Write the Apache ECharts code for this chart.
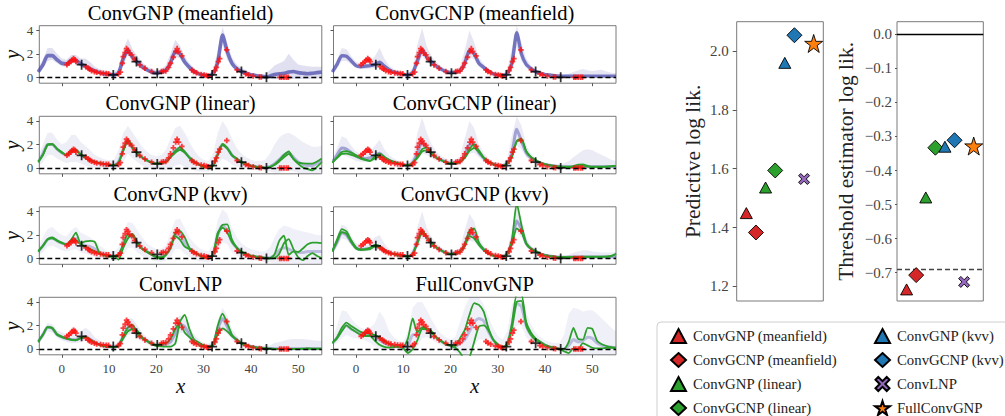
<!DOCTYPE html>
<html><head><meta charset="utf-8">
<script src="https://cdn.jsdelivr.net/npm/echarts@6/dist/echarts.min.js"></script>
<style>html,body{margin:0;padding:0;background:#fff}#c{width:1005px;height:416px}</style>
</head><body><div id="c"></div>
<script>
// ---------- shared x grid for the sample panels ----------
const xGrid = [-5,-4,-3,-2,-1,0,1,2,3,4,5,6,7,8,9,10,11,12,13,14,15,16,17,18,19,20,21,22,23,24,25,26,27,28,29,30,31,32,33,34,35,36,37,38,39,40,41,42,43,44,45,46,47,48,49,50,51,52,53,54,55];
const xTicks = [0,10,20,30,40,50];
const yTicks = [0,2,4];

const panelTitles = ['ConvGNP (meanfield)','ConvGCNP (meanfield)','ConvGNP (linear)','ConvGCNP (linear)','ConvGNP (kvv)','ConvGCNP (kvv)','ConvLNP','FullConvGNP'];

// context points (red) and target points (black)
const ctxX = [1.1,1.5,1.9,2.2,2.5,2.8,3.0,5.1,5.6,5.9,6.3,6.9,7.4,8.2,8.8,9.4,9.9,12.0,12.4,12.8,13.0,13.4,13.7,14.0,14.3,14.8,15.4,16.5,17.6,19.0,21.1,21.5,22.0,22.6,23.0,23.6,24.1,24.4,24.7,25.4,27.5,27.9,28.5,29.5,30.1,30.6,31.0,32.4,32.7,33.1,33.4,34.9,37.1,38.9,39.5,40.5,41.8,42.2,46.1,46.5,47.0,47.5,47.9];
const ctxY = [1.08,1.2,1.34,1.48,1.6,1.5,1.34,0.91,0.77,0.68,0.57,0.48,0.43,0.37,0.34,0.32,0.31,0.29,0.45,1.2,1.77,2.1,2.45,2.3,2.06,1.91,1.54,1.06,0.77,0.49,0.49,0.52,0.54,0.85,1.2,1.71,2.2,2.45,2.2,1.83,0.63,0.5,0.4,0.25,0.2,0.15,0.11,0.57,0.85,1.34,1.6,2.34,0.63,0.29,0.2,0.11,0.03,0.02,0,0,0,0,0];
const tgtX = [4.2,10.9,15.8,20.2,31.8,38.0,43.3];
const tgtY = [1.08,0.2,1.34,0.34,0.2,0.49,0.0];

// ---------- blue sample cloud: core, lower and upper envelope per panel ----------
const core1 = [0.45,1.05,1.85,1.85,1.5,1.2,1.15,1.45,1.45,1.15, 0.95,0.75,0.55,0.4,0.3,0.25,0.2,0.35,1.6,2.3, 1.7,1.3,0.9,0.65,0.45,0.35,0.45,0.6,1.2,2.2, 2.0,1.3,0.85,0.5,0.3,0.18,0.12,0.3,1.3,3.6, 2.2,1.2,0.75,0.5,0.35,0.22,0.15,0.08,0.05,0.1, 0.25,0.3,0.35,0.45,0.5,0.4,0.35,0.3,0.35,0.4, 0.45];
const hi1 = [0.8,1.5,2.5,2.5,2.0,1.6,1.5,1.9,1.9,1.6, 1.6,1.3,0.9,0.7,0.55,0.45,0.4,0.7,2.4,3.3, 2.4,1.8,1.3,0.95,0.7,0.6,0.7,1.0,2.0,3.2, 2.7,1.8,1.2,0.8,0.5,0.35,0.3,0.6,2.3,4.3, 2.9,1.7,1.1,0.8,0.6,0.4,0.3,0.25,0.3,0.6, 1.0,1.2,1.4,2.0,1.5,1.1,1.0,0.95,0.9,0.9, 0.9];
const lo1 = [0.3,0.8,1.4,1.5,1.2,0.95,0.9,1.2,1.2,0.9, 0.7,0.5,0.35,0.25,0.15,0.1,0.05,0.15,1.0,1.9, 1.3,1.0,0.65,0.45,0.3,0.2,0.3,0.4,0.9,1.8, 1.6,1.0,0.6,0.35,0.15,0.05,0.0,0.15,0.9,2.8, 1.5,0.9,0.5,0.35,0.2,0.1,0.05,0.0,-0.05,-0.1, -0.15,-0.15,-0.15,-0.15,-0.15,-0.15,-0.15,-0.15,-0.1,-0.1, -0.1];

const core2 = [0.45,1.1,1.85,1.8,1.4,1.0,0.9,0.95,1.0,1.1, 1.3,0.95,0.65,0.45,0.35,0.25,0.2,0.4,1.4,2.4, 1.7,1.3,0.95,0.7,0.5,0.4,0.45,0.55,1.2,2.3, 2.0,1.2,0.85,0.55,0.3,0.2,0.18,0.3,1.2,3.8, 2.0,1.1,0.75,0.5,0.35,0.25,0.2,0.15,0.12,0.1, 0.1,0.1,0.1,0.1,0.1,0.1,0.1,0.1,0.1,0.1, 0.1];
const hi2 = [0.7,1.5,2.5,2.4,1.8,1.3,1.2,1.3,1.4,1.8, 2.5,1.6,1.0,0.7,0.5,0.4,0.35,0.8,2.8,4.2, 2.6,1.8,1.3,0.95,0.7,0.6,0.65,0.9,2.3,4.0, 3.0,1.7,1.15,0.75,0.45,0.35,0.3,0.6,2.5,4.4, 3.0,1.6,1.0,0.7,0.5,0.35,0.3,0.25,0.22,0.22, 0.3,0.45,0.6,0.7,0.6,0.55,0.6,0.65,0.5,0.4, 0.35];
const lo2 = [0.25,0.8,1.4,1.4,1.1,0.8,0.7,0.7,0.75,0.8, 0.9,0.7,0.45,0.3,0.2,0.12,0.08,0.2,0.9,1.8, 1.3,1.0,0.7,0.5,0.35,0.25,0.3,0.35,0.8,1.8, 1.5,0.9,0.6,0.35,0.15,0.08,0.05,0.12,0.8,2.6, 1.4,0.8,0.5,0.3,0.2,0.1,0.05,0.02,0,0, 0,0,0,0,0,0,0,0,0,0, 0];

const core3 = [0.5,1.2,2.0,2.0,1.6,1.3,1.1,1.5,1.5,1.15, 0.9,0.7,0.5,0.4,0.3,0.25,0.22,0.5,1.6,2.3, 1.7,1.25,0.9,0.65,0.45,0.38,0.42,0.55,1.0,1.5, 1.65,1.35,0.9,0.5,0.3,0.12,0.08,0.3,1.2,2.0, 1.7,1.1,0.75,0.5,0.32,0.2,0.12,0.06,0.02,0.1, 0.35,0.7,1.1,1.3,0.9,0.5,0.3,0.2,0.2,0.4, 0.65];
const hi3 = [1.0,2.0,3.0,3.0,2.4,2.0,2.2,2.8,2.8,2.2, 1.9,1.5,1.1,0.9,0.75,0.65,0.7,1.5,3.0,3.6, 3.0,2.4,1.8,1.4,1.1,1.0,1.1,1.5,2.5,3.4, 3.6,3.0,2.2,1.5,1.0,0.7,0.6,1.2,3.0,4.0, 3.4,2.5,1.7,1.2,0.9,0.7,0.6,0.6,0.7,1.2, 2.0,2.6,2.9,3.0,2.8,2.5,2.2,2.0,1.8,1.8, 1.9];
const lo3 = [0.1,0.5,1.1,1.1,0.8,0.6,0.4,0.5,0.5,0.4, 0.2,0.1,0.0,-0.05,-0.1,-0.1,-0.1,-0.1,0.5,1.2, 0.8,0.5,0.2,0.0,-0.1,-0.15,-0.2,-0.2,-0.1,0.2, 0.3,0.1,-0.1,-0.2,-0.3,-0.3,-0.3,-0.2,0.3,0.8, 0.6,0.3,0.1,0.0,-0.1,-0.15,-0.2,-0.2,-0.2,-0.3, -0.4,-0.4,-0.3,-0.2,-0.3,-0.4,-0.5,-0.5,-0.5,-0.5, -0.4];

const core4 = [0.5,1.1,1.7,1.6,1.3,1.0,0.85,0.8,0.85,1.1, 1.25,0.9,0.65,0.48,0.35,0.26,0.22,0.45,1.3,2.2, 1.7,1.25,0.9,0.68,0.5,0.4,0.42,0.55,1.1,2.0, 2.0,1.3,0.85,0.52,0.32,0.2,0.18,0.4,1.3,3.3, 2.3,1.3,0.85,0.6,0.42,0.3,0.22,0.16,0.12,0.1, 0.1,0.1,0.1,0.1,0.1,0.1,0.1,0.1,0.1,0.1, 0.1];
const hi4 = [0.8,1.7,2.7,2.5,1.9,1.4,1.2,1.2,1.4,1.9, 2.4,1.6,1.1,0.8,0.6,0.45,0.4,0.9,3.0,4.3, 3.0,2.0,1.4,1.0,0.8,0.65,0.7,1.0,2.5,4.0, 3.4,2.0,1.3,0.85,0.55,0.4,0.35,0.8,2.8,4.4, 3.6,2.0,1.2,0.85,0.6,0.45,0.35,0.3,0.3,0.4, 0.6,0.9,1.2,1.5,1.6,1.5,1.3,1.1,0.9,0.7, 0.6];
const lo4 = [0.3,0.7,1.1,1.0,0.8,0.6,0.5,0.5,0.5,0.6, 0.7,0.55,0.4,0.28,0.18,0.12,0.08,0.2,0.7,1.2, 1.1,0.85,0.6,0.45,0.32,0.24,0.26,0.35,0.7,1.2, 1.3,0.9,0.55,0.32,0.15,0.08,0.06,0.15,0.7,1.9, 1.6,0.9,0.55,0.35,0.22,0.12,0.08,0.05,0.03,0.02, 0,0,0,0,0,0,0,0,0,0, 0];

const core5 = [0.55,1.05,1.6,1.75,1.5,1.3,1.2,1.5,1.7,1.25, 1.1,1.0,0.8,0.5,0.3,0.2,0.2,0.25,1.1,1.9, 1.9,1.3,0.85,0.58,0.35,0.15,0.1,0.3,0.9,2.0, 2.0,1.3,0.85,0.55,0.3,0.12,0.05,0.3,2.0,2.8, 2.4,1.4,0.9,0.55,0.35,0.22,0.15,0.1,0.05,0.05, 0.3,0.7,0.9,0.8,0.6,0.5,0.5,0.6,0.6,0.6, 0.6];
const hi5 = [1.0,1.8,2.5,2.7,2.3,2.0,1.9,2.4,2.7,2.2, 2.0,1.8,1.5,1.1,0.8,0.6,0.6,0.9,2.4,3.1, 3.0,2.4,1.8,1.3,1.0,0.8,0.8,1.1,2.2,3.3, 3.4,2.6,1.8,1.3,0.9,0.7,0.6,1.2,3.3,4.2, 3.8,2.6,1.8,1.3,1.0,0.8,0.7,0.6,0.6,0.9, 1.8,2.5,2.8,2.7,2.5,2.4,2.3,2.2,2.1,2.0, 2.0];
const lo5 = [0.2,0.5,1.0,1.1,0.9,0.7,0.6,0.7,0.8,0.5, 0.4,0.3,0.1,0.0,-0.1,-0.15,-0.15,-0.2,0.2,0.9, 0.9,0.5,0.2,0.0,-0.15,-0.25,-0.3,-0.2,0.1,0.8, 0.8,0.4,0.1,-0.1,-0.25,-0.3,-0.35,-0.2,0.7,1.4, 1.2,0.5,0.2,0.0,-0.1,-0.2,-0.2,-0.25,-0.3,-0.35, -0.4,-0.4,-0.4,-0.4,-0.4,-0.4,-0.45,-0.45,-0.45,-0.45, -0.45];

const core6 = [0.6,1.4,2.2,2.0,1.4,0.9,0.78,0.8,0.88,1.1, 1.0,0.72,0.5,0.37,0.27,0.2,0.16,0.4,1.4,2.3, 1.75,1.32,0.93,0.69,0.49,0.37,0.44,0.58,1.15,2.1, 2.0,1.25,0.76,0.44,0.25,0.18,0.15,0.4,1.4,3.2, 2.5,1.28,0.84,0.6,0.39,0.28,0.2,0.15,0.12,0.1, 0.12,0.12,0.12,0.12,0.12,0.12,0.12,0.12,0.12,0.12, 0.12];
const hi6 = [0.9,1.9,2.9,2.7,1.9,1.3,1.1,1.1,1.3,1.8, 2.0,1.3,0.8,0.6,0.45,0.35,0.3,0.8,2.7,4.0, 2.6,1.8,1.3,0.95,0.7,0.6,0.65,0.9,2.4,3.8, 3.2,1.8,1.1,0.7,0.45,0.35,0.3,0.7,2.5,4.4, 3.4,1.8,1.1,0.8,0.55,0.4,0.3,0.25,0.22,0.22, 0.3,0.5,0.6,0.7,0.7,0.6,0.55,0.5,0.5,0.5, 0.55];
const lo6 = [0.35,1.0,1.7,1.6,1.1,0.7,0.6,0.6,0.65,0.75, 0.7,0.55,0.38,0.27,0.18,0.12,0.08,0.2,0.9,1.7, 1.4,1.05,0.75,0.55,0.38,0.28,0.32,0.4,0.8,1.5, 1.4,0.95,0.6,0.35,0.18,0.1,0.08,0.18,0.9,2.2, 1.8,1.0,0.65,0.45,0.28,0.18,0.12,0.08,0.06,0.05, 0.03,0.03,0.03,0.03,0.03,0.03,0.03,0.03,0.03,0.03, 0.03];

const core7 = [0.6,1.2,1.85,1.75,1.25,1.02,0.88,0.8,0.78,0.95, 1.05,0.82,0.55,0.37,0.25,0.18,0.15,0.3,1.0,1.8, 1.9,1.4,0.95,0.7,0.46,0.32,0.32,0.4,0.6,1.3, 2.1,1.9,1.2,0.7,0.42,0.25,0.2,0.35,1.7,2.6, 1.9,1.15,0.78,0.48,0.33,0.21,0.14,0.09,0.05,0.03, 0.02,0.02,0.02,0.02,0.02,0.02,0.02,0.02,0.02,0.02, 0.02];
const hi7 = [0.8,1.5,2.2,2.1,1.6,1.4,1.3,1.3,1.3,1.5, 1.8,1.5,1.0,0.7,0.5,0.4,0.35,0.6,1.8,2.6, 2.6,2.0,1.4,1.0,0.75,0.6,0.6,0.75,1.3,2.4, 2.9,2.6,1.8,1.2,0.8,0.5,0.45,0.7,2.4,3.5, 2.8,1.7,1.1,0.75,0.55,0.4,0.3,0.25,0.25,0.3, 0.5,0.6,0.7,0.8,0.85,0.85,0.85,0.8,0.75,0.7, 0.7];
const lo7 = [0.4,0.9,1.5,1.4,0.95,0.75,0.6,0.5,0.5,0.6, 0.7,0.55,0.35,0.22,0.12,0.06,0.04,0.1,0.6,1.2, 1.3,1.0,0.6,0.45,0.28,0.18,0.15,0.18,0.25,0.6, 1.4,1.3,0.8,0.45,0.25,0.12,0.08,0.15,1.0,1.6, 1.3,0.8,0.5,0.3,0.2,0.1,0.05,0.02,0,0, -0.02,-0.02,-0.02,-0.02,-0.02,-0.02,-0.02,-0.02,-0.02,-0.02, -0.02];

const core8 = [0.5,0.95,1.6,2.0,1.7,1.5,1.3,1.25,1.2,1.0, 0.75,0.5,0.35,0.25,0.2,0.15,0.3,1.2,1.2,1.75, 1.65,1.4,0.95,0.65,0.42,0.28,0.2,0.5,0.8,1.5, 2.3,2.6,2.4,1.5,0.8,0.35,0.1,0.4,2.0,3.9, 3.6,2.0,1.2,0.8,0.55,0.32,0.17,0.09,0.02,0.0, 0.3,0.8,0.6,0.7,1.0,0.9,0.5,0.3,0.2,0.15, 0.1];
const hi8 = [0.9,2.0,3.3,3.2,2.6,2.1,1.8,1.7,1.8,2.2, 3.2,2.6,1.5,1.0,0.7,0.6,1.5,3.5,4.0,4.0, 3.3,2.5,1.8,1.3,1.0,0.8,1.0,2.3,3.5,4.4, 4.4,4.4,3.8,2.8,1.8,1.1,0.8,1.5,3.8,4.4, 4.4,3.2,2.1,1.4,1.0,0.75,0.6,0.5,0.5,1.2, 3.0,3.5,3.4,3.2,3.3,3.3,3.0,2.6,2.2,1.8, 1.5];
const lo8 = [0.2,0.5,0.9,1.2,1.0,0.9,0.8,0.7,0.5,0.2, 0.0,-0.1,-0.1,-0.1,-0.1,-0.2,-0.5,-0.3,0.2,0.9, 1.0,0.8,0.5,0.3,0.1,0.0,-0.3,-0.5,-0.5,-0.3, 0.3,0.8,0.8,0.5,0.1,-0.1,-0.2,-0.1,0.8,2.0, 2.0,1.0,0.5,0.3,0.15,0.05,0.0,-0.05,-0.1,-0.4, -0.5,-0.5,-0.5,-0.5,-0.5,-0.5,-0.5,-0.5,-0.5,-0.5, -0.5];

// ---------- green samples (two per panel, panels 3-8) ----------
const gA3 = [0.5,1.1,2.0,2.05,1.65,1.35,1.1,1.5,1.55,1.15, 0.9,0.66,0.52,0.43,0.33,0.27,0.23,0.45,1.5,2.4, 1.75,1.25,0.9,0.66,0.48,0.38,0.42,0.52,0.95,1.45, 1.75,1.4,0.9,0.55,0.32,0.12,0.06,0.23,1.2,2.05, 1.7,1.1,0.8,0.5,0.33,0.2,0.12,0.06,0.02,0.1, 0.3,0.66,1.1,1.4,0.8,0.45,0.38,0.37,0.37,0.55, 0.8];
const gB3 = [0.5,1.1,1.95,2.0,1.6,1.3,1.1,1.45,1.5,1.12, 0.88,0.64,0.5,0.42,0.32,0.26,0.22,0.45,1.45,2.35, 1.7,1.22,0.88,0.64,0.46,0.36,0.4,0.5,0.9,1.3, 1.55,1.3,0.85,0.5,0.28,0.08,0.04,0.2,1.1,1.95, 1.65,1.05,0.78,0.48,0.3,0.18,0.1,0.05,0.0,0.08, 0.25,0.55,0.9,1.2,0.75,0.35,0.05,-0.1,-0.2,0.1, 0.5];
const gA4 = [0.45,0.9,1.35,1.43,1.3,1.1,0.9,0.7,0.6,1.0, 1.22,0.95,0.7,0.52,0.38,0.28,0.23,0.45,0.95,1.6, 1.75,1.25,0.9,0.68,0.5,0.4,0.4,0.55,0.9,1.6, 2.0,1.5,0.9,0.55,0.35,0.2,0.18,0.4,1.0,2.3, 2.5,1.45,0.95,0.68,0.45,0.32,0.23,0.16,0.12,0.1, 0.1,0.15,0.28,0.3,0.18,0.1,0.1,0.1,0.12,0.15, 0.18];
const gB4 = [0.45,0.85,1.2,1.23,1.12,0.98,0.8,0.66,0.6,0.82, 0.94,0.85,0.65,0.5,0.36,0.27,0.22,0.42,0.85,1.4, 1.5,1.2,0.85,0.65,0.48,0.38,0.38,0.52,0.85,1.45, 1.7,1.35,0.85,0.52,0.32,0.18,0.16,0.38,0.95,2.25, 2.4,1.4,0.92,0.66,0.44,0.3,0.22,0.15,0.1,0.08, 0.07,0.08,0.15,0.2,0.12,0.08,0.08,0.09,0.1,0.13, 0.17];
const gA5 = [0.6,1.1,1.65,1.8,1.55,1.35,1.2,1.6,2.2,1.3, 1.45,1.5,1.4,0.45,0.25,0.15,0.2,0.3,1.2,2.05, 1.9,1.3,0.85,0.6,0.35,0.15,0.1,0.3,0.9,2.2, 2.35,1.8,0.9,0.55,0.3,0.12,0.02,0.3,2.0,2.85, 2.9,1.6,0.95,0.6,0.4,0.25,0.18,0.12,0.05,0.0, 0.35,1.5,1.95,0.3,0.6,0.55,0.85,1.2,1.35,1.35, 1.3];
const gB5 = [0.6,1.05,1.6,1.72,1.5,1.3,1.18,1.45,1.55,1.2, 1.0,0.8,0.6,0.45,0.3,0.15,0.2,-0.1,0.9,1.7, 2.1,1.3,0.8,0.55,0.3,0.1,-0.05,0.3,0.9,1.9, 1.6,1.0,0.8,0.55,0.3,0.1,0.02,0.35,2.2,2.6, 2.2,1.4,0.9,0.55,0.35,0.22,0.15,0.1,0.05,0.0, 0.05,0.4,1.3,1.65,0.8,0.1,-0.15,0.2,0.45,0.2, 0.0];
const gA6 = [0.6,1.6,2.5,2.3,1.55,0.95,0.78,0.8,0.9,1.15, 1.05,0.72,0.5,0.38,0.27,0.2,0.16,0.4,1.4,2.4, 1.8,1.35,0.95,0.7,0.5,0.38,0.45,0.6,1.2,2.35, 2.55,1.35,0.8,0.45,0.25,0.18,0.15,0.4,1.6,4.7, 2.85,1.3,0.85,0.62,0.4,0.28,0.2,0.15,0.12,0.1, 0.1,0.12,0.14,0.15,0.15,0.15,0.15,0.15,0.15,0.22, 0.4];
const gB6 = [0.6,1.45,2.25,2.1,1.4,0.85,0.72,0.75,0.8,1.0, 0.95,0.7,0.48,0.36,0.26,0.19,0.15,0.38,1.3,2.25, 1.75,1.3,0.92,0.68,0.48,0.36,0.42,0.55,1.05,1.9, 1.7,1.15,0.72,0.42,0.24,0.17,0.14,0.38,1.3,2.55, 2.25,1.25,0.82,0.6,0.38,0.27,0.19,0.14,0.11,0.1, 0.1,0.11,0.13,0.14,0.14,0.14,0.14,0.14,0.15,0.2, 0.38];
const gA7 = [0.6,1.2,1.85,1.8,1.25,1.05,0.9,0.8,0.75,0.95, 1.05,0.8,0.55,0.37,0.25,0.18,0.15,0.3,1.1,1.85, 2.05,1.3,0.9,0.7,0.5,0.35,0.4,0.5,0.85,1.7, 2.25,1.4,1.0,0.6,0.35,0.2,0.2,0.35,2.0,3.0, 2.2,1.2,0.8,0.5,0.35,0.22,0.15,0.1,0.05,0.02, 0.01,0,0,0,0,0,0.02,0.05,0.02,0.03, 0.03];
const gB7 = [0.6,1.2,1.85,1.75,1.2,1.0,0.88,0.78,0.74,0.92, 1.0,0.78,0.52,0.35,0.24,0.17,0.15,0.28,0.9,1.5, 1.7,1.55,1.0,0.68,0.4,0.26,0.22,0.2,0.2,0.45, 2.3,2.9,1.7,0.8,0.55,0.3,0.2,0.3,1.3,1.75, 1.5,1.1,0.75,0.45,0.32,0.2,0.12,0.08,0.04,0.02, 0.01,0,0,0,0,0,0,0.02,0.01,0.01, 0.01];
const gA8 = [0.5,1.0,1.8,2.25,1.95,1.7,1.45,1.35,1.28,1.2, 0.95,0.7,0.45,0.25,0.2,0.17,0.9,2.6,1.4,1.85, 1.75,1.5,1.0,0.7,0.45,0.3,0.25,0.9,1.6,2.9, 3.9,3.75,3.2,1.8,0.8,0.4,0.15,0.3,2.2,4.6, 4.6,2.3,1.4,0.9,0.62,0.35,0.2,0.1,0.03,0.0, 0.6,1.8,0.85,0.8,1.8,1.7,0.7,0.4,0.25,0.15, 0.1];
const gB8 = [0.5,0.9,1.5,2.0,1.7,1.45,1.2,1.1,1.1,0.7, 0.35,0.18,0.12,0.15,0.2,0.05,-0.35,0.0,0.75,1.7, 1.68,1.4,0.95,0.65,0.4,0.26,0.1,-0.3,-0.9,-0.7, 0.6,1.9,2.0,1.6,0.8,0.3,0.05,0.5,1.8,4.0, 4.1,2.0,1.2,0.75,0.55,0.3,0.15,0.08,0.0,-0.2, -0.35,0.05,0.0,0.5,0.3,0.1,0.05,0.05,0.1,0.1, 0.05];

// ---------- right panels ----------
const models = ['ConvGNP (meanfield)','ConvGCNP (meanfield)','ConvGNP (linear)','ConvGCNP (linear)','ConvGNP (kvv)','ConvGCNP (kvv)','ConvLNP','FullConvGNP'];
const predLL = [1.449,1.383,1.536,1.594,1.960,2.054,1.565,2.026];
const threshLL = [-0.749,-0.707,-0.479,-0.333,-0.330,-0.311,-0.727,-0.328];
const predTicks = [1.2,1.4,1.6,1.8,2.0];
const threshTicks = [0,-0.1,-0.2,-0.3,-0.4,-0.5,-0.6,-0.7];
const threshBaseline = -0.6931;

// ---------- build ----------
const SERIF = '"Liberation Serif", "Times New Roman", serif';
const cores = [core1,core2,core3,core4,core5,core6,core7,core8];
const his = [hi1,hi2,hi3,hi4,hi5,hi6,hi7,hi8];
const los = [lo1,lo2,lo3,lo4,lo5,lo6,lo7,lo8];
const greens = [null,null,[gA3,gB3],[gA4,gB4],[gA5,gB5],[gA6,gB6],[gA7,gB7],[gA8,gB8]];
const hazeAlpha = [0.16,0.13,0.085,0.1,0.08,0.1,0.1,0.075];
const coreStyle = [[0.72,3.6],[0.72,3.4],[0.35,3],[0.45,3],[0.3,3],[0.45,3],[0.4,3],[0.3,3]];

const colLeft = [39.3, 333.5];
const plotW = 282.5;
const rowTop = [25.7, 116.3, 206.8, 297.3];
const plotH = 57.5;

const grids = [], xAxes = [], yAxes = [], series = [], graphics = [];
const PLUS_RED = 'path://M3,0H6V3H9V6H6V9H3V6H0V3H3Z';
const PLUS_BLK = 'path://M6.6,0H9.4V6.6H16V9.4H9.4V16H6.6V9.4H0V6.6H6.6Z';

for (let i = 0; i < 8; i++) {
  const r = Math.floor(i / 2), c = i % 2;
  grids.push({left: colLeft[c], top: rowTop[r], width: plotW, height: plotH, show: true,
    borderColor: '#7a7a7a', borderWidth: 1, backgroundColor: 'transparent', containLabel: false});
  const bottom = r === 3, leftCol = c === 0;
  xAxes.push({type: 'value', gridIndex: i, min: -4.75, max: 55,
    axisLine: {show: false, onZero: false}, splitLine: {show: false},
    axisTick: {show: true, length: 3, customValues: xTicks, lineStyle: {color: '#555'}},
    axisLabel: {show: bottom, customValues: xTicks, margin: 7, fontFamily: SERIF, fontSize: 13, color: '#444'},
    name: bottom ? 'x' : '', nameLocation: 'middle', nameGap: 20,
    nameTextStyle: {fontFamily: SERIF, fontStyle: 'italic', fontSize: 21, color: '#111'}});
  yAxes.push({type: 'value', gridIndex: i, min: -0.5, max: 4.4,
    axisLine: {show: false, onZero: false}, splitLine: {show: false},
    axisTick: {show: true, length: 3, customValues: yTicks, lineStyle: {color: '#555'}},
    axisLabel: {show: leftCol, customValues: yTicks, margin: 6, fontFamily: SERIF, fontSize: 13, color: '#444'},
    name: leftCol ? 'y' : '', nameLocation: 'middle', nameGap: 14, nameRotate: 90,
    nameTextStyle: {fontFamily: SERIF, fontStyle: 'italic', fontSize: 21, color: '#111'}});

  const lo = los[i], hi = his[i], a = hazeAlpha[i];
  series.push({type: 'custom', xAxisIndex: i, yAxisIndex: i, z: 1, silent: true, clip: true,
    data: xGrid.map((x, k) => [x, lo[k], hi[k]]), encode: {x: 0, y: [1, 2]},
    renderItem: function (params, api) {
      if (params.dataIndex !== 0) return null;
      const up = [], dn = [];
      for (let k = 0; k < xGrid.length; k++) {
        up.push(api.coord([xGrid[k], hi[k]]));
        dn.push(api.coord([xGrid[k], lo[k]]));
      }
      return {type: 'polygon', shape: {points: up.concat(dn.reverse())}, style: {fill: 'rgba(60,60,165,' + a + ')'}};
    }});
  series.push({type: 'line', xAxisIndex: i, yAxisIndex: i, z: 2, silent: true, showSymbol: false, smooth: 0.2,
    data: xGrid.map((x, k) => [x, cores[i][k]]),
    lineStyle: {color: 'rgba(70,70,170,' + coreStyle[i][0] + ')', width: coreStyle[i][1]},
    markLine: {silent: true, symbol: 'none', label: {show: false},
      lineStyle: {color: '#000', type: [5, 3], width: 1.3}, data: [{yAxis: 0}]}});
  if (greens[i]) {
    greens[i].forEach(g => series.push({type: 'line', xAxisIndex: i, yAxisIndex: i, z: 3, silent: true,
      showSymbol: false, smooth: 0.2, data: xGrid.map((x, k) => [x, g[k]]),
      lineStyle: {color: '#2ca02c', width: 1.8}}));
  }
  series.push({type: 'scatter', xAxisIndex: i, yAxisIndex: i, z: 4, silent: true,
    symbol: PLUS_RED, symbolSize: 5.5, itemStyle: {color: '#ff1010'},
    data: ctxX.map((x, k) => [x, ctxY[k]])});
  series.push({type: 'scatter', xAxisIndex: i, yAxisIndex: i, z: 5, silent: true,
    symbol: PLUS_BLK, symbolSize: 10, itemStyle: {color: '#000'},
    data: tgtX.map((x, k) => [x, tgtY[k]])});

  graphics.push({type: 'text', x: colLeft[c] + plotW / 2, y: rowTop[r] - 13, z: 10,
    style: {text: panelTitles[i], fill: '#000', font: '20.5px "Liberation Serif"', align: 'center', verticalAlign: 'middle'}});
}

// right grids
grids.push({left: 736.7, top: 21.7, width: 86.6, height: 279.3, show: true, borderColor: '#7a7a7a', borderWidth: 1});
grids.push({left: 897, top: 21.7, width: 86.3, height: 279.3, show: true, borderColor: '#7a7a7a', borderWidth: 1});
for (let g = 0; g < 2; g++) {
  xAxes.push({type: 'value', gridIndex: 8 + g, min: -1, max: 8, show: false});
}
yAxes.push({type: 'value', gridIndex: 8, min: 1.15, max: 2.1, splitLine: {show: false}, axisLine: {show: false, onZero: false},
  axisTick: {show: true, length: 4, customValues: predTicks, lineStyle: {color: '#555'}},
  axisLabel: {customValues: predTicks, margin: 8, fontFamily: SERIF, fontSize: 15, color: '#444', formatter: v => v.toFixed(1)},
  name: 'Predictive log lik.', nameLocation: 'middle', nameGap: 33,
  nameTextStyle: {fontFamily: SERIF, fontSize: 21.5, color: '#222'}});
yAxes.push({type: 'value', gridIndex: 9, min: -0.783, max: 0.037, splitLine: {show: false}, axisLine: {show: false, onZero: false},
  axisTick: {show: true, length: 2, customValues: threshTicks, lineStyle: {color: '#555'}},
  axisLabel: {customValues: threshTicks, margin: 5, fontFamily: SERIF, fontSize: 15, color: '#444',
    formatter: v => (v < -1e-9 ? '\u2212' : '') + Math.abs(v).toFixed(1)},
  name: 'Threshold estimator log lik.', nameLocation: 'middle', nameGap: 40,
  nameTextStyle: {fontFamily: SERIF, fontSize: 21.5, color: '#222'}});

const mColors = ['#d62728','#d62728','#2ca02c','#2ca02c','#1f77b4','#1f77b4','#9467bd','#ff7f0e'];
const X_SYM = 'path://M2,0L5,3L8,0L10,2L7,5L10,8L8,10L5,7L2,10L0,8L3,5L0,2Z';
const STAR_SYM = 'path://M10,0L12.25,6.91L19.51,6.91L13.63,11.18L15.88,18.09L10,13.82L4.12,18.09L6.37,11.18L0.49,6.91L7.75,6.91Z';
const mSymbols = ['triangle','diamond','triangle','diamond','triangle','diamond',X_SYM,STAR_SYM];
const mSizes = [[12,11],[15,15],[12,11],[15,15],[12,11],[15,15],[11,11],[18,18]];

for (let g = 0; g < 2; g++) {
  const vals = g === 0 ? predLL : threshLL;
  for (let m = 0; m < 8; m++) {
    const s = {type: 'scatter', name: models[m], xAxisIndex: 8 + g, yAxisIndex: 8 + g, z: 5,
      symbol: mSymbols[m], symbolSize: mSizes[m], data: [[m, vals[m]]],
      itemStyle: {color: mColors[m], borderColor: '#000', borderWidth: 0.9, opacity: 1}};
    if (g === 1 && m === 0) {
      s.markLine = {silent: true, symbol: 'none', label: {show: false},
        data: [{yAxis: 0, lineStyle: {type: 'solid', color: '#000', width: 1.3}},
               {yAxis: threshBaseline, lineStyle: {type: [5, 3], color: '#444', width: 1.3}}]};
    }
    series.push(s);
  }
}

graphics.push({type: 'rect', x: 657, y: 322, z: 0, shape: {width: 370, height: 110, r: 4},
  style: {fill: '#fff', stroke: '#cfcfcf', lineWidth: 1}});

const legendCommon = {orient: 'vertical', itemGap: 8, itemWidth: 15, itemHeight: 14, padding: 0, z: 6,
  selectedMode: false, textStyle: {fontFamily: SERIF, fontSize: 14.8, color: '#222', padding: [0, 0, 0, 2]}};

const option = {
  backgroundColor: '#fff',
  animation: false,
  textStyle: {fontFamily: SERIF},
  grid: grids, xAxis: xAxes, yAxis: yAxes, series: series, graphic: graphics,
  legend: [
    Object.assign({left: 670, top: 328, data: models.slice(0, 4)}, legendCommon),
    Object.assign({left: 874, top: 328, data: models.slice(4, 8)}, legendCommon)
  ]
};
const chart = echarts.init(document.getElementById('c'), null, {renderer: 'svg'});
chart.setOption(option);
</script></body></html>
